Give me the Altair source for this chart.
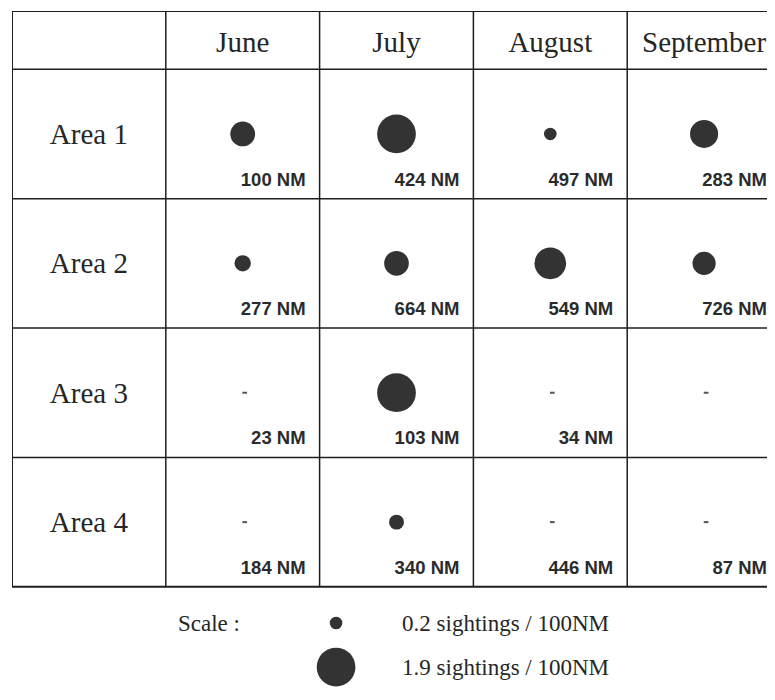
import altair as alt
import pandas as pd

# ---- data ----
months = ["June", "July", "August", "September"]
areas = ["Area 1", "Area 2", "Area 3", "Area 4"]

# sightings per 100 NM (circle area), 0 = dash
rate_area1 = [0.78, 1.9, 0.2, 1.0]
rate_area2 = [0.34, 0.77, 1.27, 0.68]
rate_area3 = [0.0, 1.9, 0.0, 0.0]
rate_area4 = [0.0, 0.28, 0.0, 0.0]

# effort (NM surveyed), None = no label
effort_area1 = [100, 424, 497, 283]
effort_area2 = [277, 664, 549, 726]
effort_area3 = [23, 103, 34, None]
effort_area4 = [184, 340, 446, 87]

legend_values = [0.2, 1.9]
legend_labels = ["0.2 sightings / 100NM", "1.9 sightings / 100NM"]
legend_title = "Scale :"

rates = [rate_area1, rate_area2, rate_area3, rate_area4]
efforts = [effort_area1, effort_area2, effort_area3, effort_area4]

# ---- layout constants (table units: 1 column / 1 row) ----
HEADER = 0.45
PX_X = 153.8
PX_Y = 129.4
W = 755
H = 677
XMAX = W / PX_X
YMIN = -HEADER
YMAX = YMIN + H / PX_Y

xs = alt.Scale(domain=[0, XMAX], nice=False, zero=False)
ys = alt.Scale(domain=[YMIN, YMAX], nice=False, zero=False, reverse=True)
ss = alt.Scale(domain=[0, 1.9], range=[0, 1500], zero=True)

# cells
rows = []
for i, a in enumerate(areas):
    for j, m in enumerate(months):
        e = efforts[i][j]
        rows.append(dict(area=a, month=m, cx=j + 1.5, cy=i + 0.5,
                         right=j + 2, bottom=i + 1, rate=rates[i][j],
                         label=(f"{e} NM" if e is not None else "")))
cells = pd.DataFrame(rows)

# grid lines
ncols = len(months) + 1
nrows = len(areas)
lines = []
for c in range(ncols + 1):
    lines.append(dict(x=c, x2=c, y=-HEADER, y2=nrows, w=2.0 if c == 0 else 1.5))
for r in [-HEADER] + list(range(nrows + 1)):
    lines.append(dict(x=0, x2=ncols, y=r, y2=r,
                      w=2.0 if r in (-HEADER, nrows) else 1.5))
grid = pd.DataFrame(lines)

head = pd.DataFrame(dict(t=months, x=[j + 1.5 for j in range(len(months))],
                         y=[-HEADER / 2] * len(months)))
side = pd.DataFrame(dict(t=areas, x=[0.5] * len(areas),
                         y=[i + 0.5 for i in range(len(areas))]))

leg = pd.DataFrame(dict(v=legend_values, t=legend_labels,
                        x=[2.107, 2.107], tx=[2.536, 2.536],
                        y=[4.28, 4.62]))
legt = pd.DataFrame(dict(t=[legend_title], x=[1.079], y=[4.28]))

DARK = "#262626"
SERIF = "Liberation Serif"

grid_l = alt.Chart(grid).mark_rule(clip=True, color="#1e1e1e").encode(
    x=alt.X("x:Q", scale=xs, axis=None), x2="x2:Q",
    y=alt.Y("y:Q", scale=ys, axis=None), y2="y2:Q",
    strokeWidth=alt.StrokeWidth("w:Q", scale=None))

head_l = alt.Chart(head).mark_text(font=SERIF, fontSize=29, color=DARK,
                                   baseline="alphabetic", dy=12).encode(
    x=alt.X("x:Q", scale=xs, axis=None), y=alt.Y("y:Q", scale=ys, axis=None),
    text="t:N")

side_l = alt.Chart(side).mark_text(font=SERIF, fontSize=29, color=DARK,
                                   baseline="alphabetic", dy=10).encode(
    x=alt.X("x:Q", scale=xs, axis=None), y=alt.Y("y:Q", scale=ys, axis=None),
    text="t:N")

circ_l = alt.Chart(cells).transform_filter("datum.rate > 0").mark_circle(
    color="#333333", opacity=1).encode(
    x=alt.X("cx:Q", scale=xs, axis=None), y=alt.Y("cy:Q", scale=ys, axis=None),
    size=alt.Size("rate:Q", scale=ss, legend=None))

dash_l = alt.Chart(cells).transform_filter("datum.rate == 0").mark_point(
    shape="stroke", size=22, strokeWidth=2, color="#555555", xOffset=2,
    opacity=1).encode(
    x=alt.X("cx:Q", scale=xs, axis=None), y=alt.Y("cy:Q", scale=ys, axis=None))

nm_l = alt.Chart(cells).mark_text(font="Liberation Sans", fontWeight="bold",
                                  fontSize=18.5, color="#2b2b2b", align="right",
                                  baseline="alphabetic", dx=-14, dy=-13).encode(
    x=alt.X("right:Q", scale=xs, axis=None),
    y=alt.Y("bottom:Q", scale=ys, axis=None), text="label:N")

legc_l = alt.Chart(leg).mark_circle(color="#333333", opacity=1).encode(
    x=alt.X("x:Q", scale=xs, axis=None), y=alt.Y("y:Q", scale=ys, axis=None),
    size=alt.Size("v:Q", scale=ss, legend=None))

legx_l = alt.Chart(leg).mark_text(font=SERIF, fontSize=23, color=DARK,
                                  align="left", baseline="alphabetic", dy=8).encode(
    x=alt.X("tx:Q", scale=xs, axis=None), y=alt.Y("y:Q", scale=ys, axis=None),
    text="t:N")

legt_l = alt.Chart(legt).mark_text(font=SERIF, fontSize=23, color=DARK,
                                   align="left", baseline="alphabetic", dy=8).encode(
    x=alt.X("x:Q", scale=xs, axis=None), y=alt.Y("y:Q", scale=ys, axis=None),
    text="t:N")

chart = alt.layer(grid_l, head_l, side_l, circ_l, dash_l, nm_l,
                  legc_l, legx_l, legt_l).properties(
    width=W, height=H,
    padding={"left": 4, "top": 3, "right": 0, "bottom": 0},
    autosize=alt.AutoSizeParams(type="none"),
    background="white",
).configure_view(stroke=None)

chart.save("out.html", embed_options={"renderer": "svg", "actions": False})
